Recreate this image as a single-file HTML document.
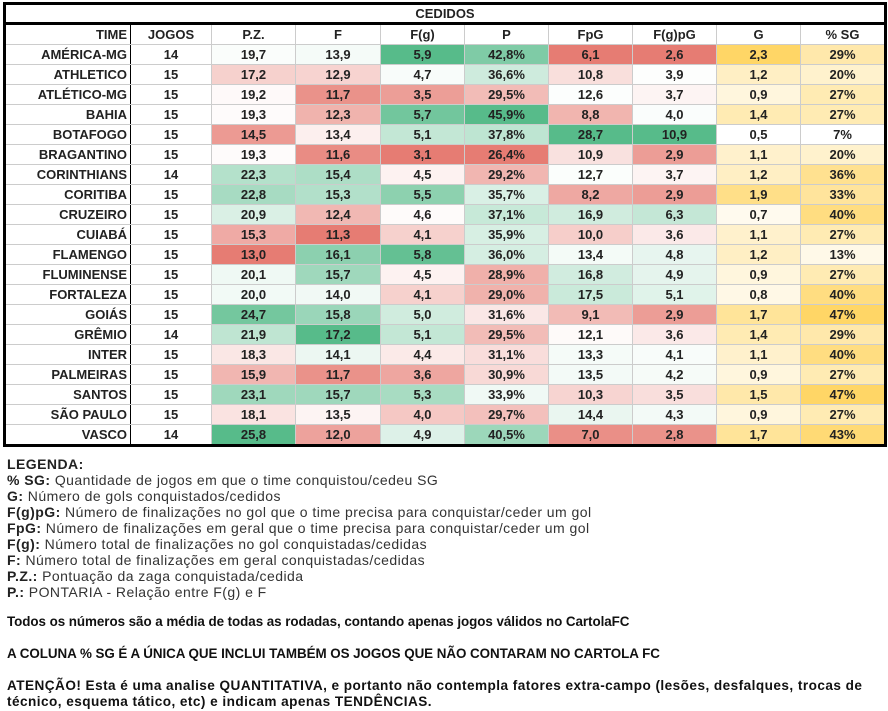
<!DOCTYPE html>
<html><head><meta charset="utf-8">
<style>
body{margin:0;width:888px;height:711px;background:#fff;position:relative;overflow:hidden;font-family:"Liberation Sans",sans-serif}
table{position:absolute;left:3px;top:2px;border-collapse:collapse;border:3px solid #000;table-layout:fixed;background:#fff}
td{height:19px;padding:0 3px;font-weight:bold;font-size:13px;color:#222;text-align:center;border:1px solid #ccc;white-space:nowrap;overflow:hidden;line-height:19px}
td.t{text-align:right;border-right:1.5px solid #000}
tr.title td{border-bottom:3px solid #000;height:17px;line-height:17px}
.leg{position:absolute;left:7px;top:456px;font-size:14px;color:#333;line-height:16px;letter-spacing:0.45px}
.leg b{color:#222}
.bt{position:absolute;left:7px;font-size:13.4px;font-weight:bold;color:#111;line-height:16px;letter-spacing:-0.05px}
</style></head><body>
<table id="tb">
<colgroup><col style="width:126px"><col style="width:81px"><col style="width:84px"><col style="width:85px"><col style="width:84px"><col style="width:84px"><col style="width:84px"><col style="width:84px"><col style="width:84px"><col style="width:85px"></colgroup>
<tr class="title"><td colspan="10">CEDIDOS</td></tr>
<tr><td class="t">TIME</td><td>JOGOS</td><td>P.Z.</td><td>F</td><td>F(g)</td><td>P</td><td>FpG</td><td>F(g)pG</td><td>G</td><td>% SG</td></tr>
</table>
<div class="leg"><b>LEGENDA:</b><br>
<b>% SG:</b> Quantidade de jogos em que o time conquistou/cedeu SG<br>
<b>G:</b> Número de gols conquistados/cedidos<br>
<b>F(g)pG:</b> Número de finalizações no gol que o time precisa para conquistar/ceder um gol<br>
<b>FpG:</b> Número de finalizações em geral que o time precisa para conquistar/ceder um gol<br>
<b>F(g):</b> Número total de finalizações no gol conquistadas/cedidas<br>
<b>F:</b> Número total de finalizações em geral conquistadas/cedidas<br>
<b>P.Z.:</b> Pontuação da zaga conquistada/cedida<br>
<b>P.:</b> PONTARIA - Relação entre F(g) e F</div>
<div class="bt" style="top:614px">Todos os números são a média de todas as rodadas, contando apenas jogos válidos no CartolaFC</div>
<div class="bt" style="top:646px">A COLUNA % SG É A ÚNICA QUE INCLUI TAMBÉM OS JOGOS QUE NÃO CONTARAM NO CARTOLA FC</div>
<div class="bt" style="top:678px;font-size:13.6px;letter-spacing:0.45px">ATENÇÃO! Esta é uma analise QUANTITATIVA, e portanto não contempla fatores extra-campo (lesões, desfalques, trocas de<br>técnico, esquema tático, etc) e indicam apenas TENDÊNCIAS.</div>
<script>
var D=[
["AMÉRICA-MG",14,"19,7","13,9","5,9","42,8%","6,1","2,6","2,3","29%"],
["ATHLETICO",15,"17,2","12,9","4,7","36,6%","10,8","3,9","1,2","20%"],
["ATLÉTICO-MG",15,"19,2","11,7","3,5","29,5%","12,6","3,7","0,9","27%"],
["BAHIA",15,"19,3","12,3","5,7","45,9%","8,8","4,0","1,4","27%"],
["BOTAFOGO",15,"14,5","13,4","5,1","37,8%","28,7","10,9","0,5","7%"],
["BRAGANTINO",15,"19,3","11,6","3,1","26,4%","10,9","2,9","1,1","20%"],
["CORINTHIANS",14,"22,3","15,4","4,5","29,2%","12,7","3,7","1,2","36%"],
["CORITIBA",15,"22,8","15,3","5,5","35,7%","8,2","2,9","1,9","33%"],
["CRUZEIRO",15,"20,9","12,4","4,6","37,1%","16,9","6,3","0,7","40%"],
["CUIABÁ",15,"15,3","11,3","4,1","35,9%","10,0","3,6","1,1","27%"],
["FLAMENGO",15,"13,0","16,1","5,8","36,0%","13,4","4,8","1,2","13%"],
["FLUMINENSE",15,"20,1","15,7","4,5","28,9%","16,8","4,9","0,9","27%"],
["FORTALEZA",15,"20,0","14,0","4,1","29,0%","17,5","5,1","0,8","40%"],
["GOIÁS",15,"24,7","15,8","5,0","31,6%","9,1","2,9","1,7","47%"],
["GRÊMIO",14,"21,9","17,2","5,1","29,5%","12,1","3,6","1,4","29%"],
["INTER",15,"18,3","14,1","4,4","31,1%","13,3","4,1","1,1","40%"],
["PALMEIRAS",15,"15,9","11,7","3,6","30,9%","13,5","4,2","0,9","27%"],
["SANTOS",15,"23,1","15,7","5,3","33,9%","10,3","3,5","1,5","47%"],
["SÃO PAULO",15,"18,1","13,5","4,0","29,7%","14,4","4,3","0,9","27%"],
["VASCO",14,"25,8","12,0","4,9","40,5%","7,0","2,8","1,7","43%"]];
function num(s){return parseFloat(String(s).replace('%','').replace(',','.'));}
function mix(a,b,t){return 'rgb('+a.map((v,i)=>Math.round(v+(b[i]-v)*t)).join(',')+')';}
var G=[87,187,138],W=[255,255,255],R=[230,124,115],Y=[255,214,102];
var cols=[];
for(var c=2;c<10;c++){var v=D.map(r=>num(r[c]));var s=v.slice().sort((a,b)=>a-b);
cols[c]={min:s[0],max:s[s.length-1],med:(s[9]+s[10])/2};}
var tb=document.getElementById('tb');
D.forEach(function(r){var tr=document.createElement('tr');
r.forEach(function(v,c){var td=document.createElement('td');td.textContent=v;
if(c==0)td.className='t';
if(c>=2){var x=num(v),k=cols[c],col;
if(c>=8){col=mix(W,Y,(x-k.min)/(k.max-k.min));}
else if(x>=k.med){col=mix(W,G,(x-k.med)/(k.max-k.med));}
else col=mix(W,R,(k.med-x)/(k.med-k.min));
td.style.background=col;}
tr.appendChild(td);});tb.appendChild(tr);});
</script>
</body></html>
